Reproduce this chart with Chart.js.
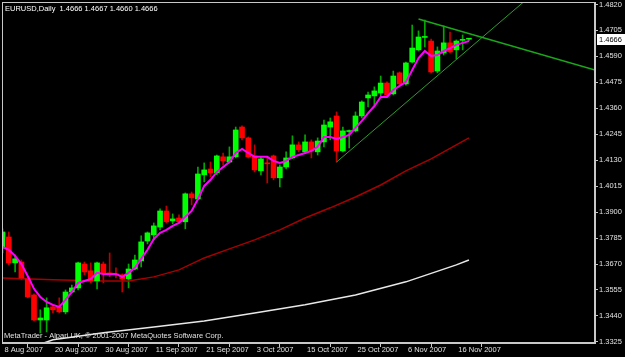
<!DOCTYPE html>
<html>
<head>
<meta charset="utf-8">
<script src="https://cdn.jsdelivr.net/npm/chart.js@4/dist/chart.umd.min.js"></script>
<style>
  html, body { margin: 0; padding: 0; background: #000; }
  canvas { display: block; }
</style>
</head>
<body>
<canvas id="chart" width="625" height="357"></canvas>
<script>
// EURUSD daily bars, 8 Aug 2007 .. 20 Nov 2007 (index 0 .. 74)
const opens = [1.3741,1.3790,1.3675,1.3679,1.3604,1.3533,1.3422,1.3422,1.3480,1.3480,
  1.3458,1.3546,1.3564,1.3670,1.3640,1.3595,1.3670,1.3631,1.3626,1.3622,
  1.3604,1.3648,1.3684,1.3772,1.3799,1.3834,1.3905,1.3861,1.3874,1.3857,
  1.3981,1.3958,1.4065,1.4091,1.4074,1.4145,1.4122,1.4145,1.4277,1.4229,
  1.4149,1.4083,1.4118,1.4149,1.4052,1.4100,1.4140,1.4198,1.4167,1.4211,
  1.4167,1.4211,1.4277,1.4326,1.4171,1.4257,1.4260,1.4326,1.4406,1.4415,
  1.4428,1.4472,1.4424,1.4517,1.4468,1.4565,1.4619,1.4674,1.4658,1.4525,
  1.4605,1.4650,1.4619,1.4661,1.4666]
const highs = [1.3826,1.3812,1.3710,1.3688,1.3613,1.3538,1.3467,1.3520,1.3489,1.3520,
  1.3555,1.3577,1.3679,1.3679,1.3675,1.3679,1.3679,1.3719,1.3653,1.3626,
  1.3670,1.3710,1.3795,1.3812,1.3852,1.3914,1.3927,1.3892,1.3888,1.3985,
  1.3989,1.4100,1.4118,1.4122,1.4153,1.4162,1.4189,1.4277,1.4282,1.4233,
  1.4198,1.4145,1.4145,1.4153,1.4109,1.4167,1.4238,1.4211,1.4242,1.4220,
  1.4229,1.4308,1.4317,1.4344,1.4277,1.4264,1.4344,1.4393,1.4432,1.4455,
  1.4503,1.4477,1.4525,1.4521,1.4565,1.4729,1.4703,1.4751,1.4667,1.4632,
  1.4725,1.4698,1.4663,1.4685,1.4667]
const lows = [1.3719,1.3666,1.3635,1.3600,1.3520,1.3418,1.3365,1.3369,1.3453,1.3453,
  1.3449,1.3542,1.3555,1.3622,1.3586,1.3560,1.3586,1.3613,1.3608,1.3546,
  1.3564,1.3644,1.3657,1.3759,1.3777,1.3821,1.3852,1.3848,1.3852,1.3826,
  1.3932,1.3954,1.4034,1.4056,1.4065,1.4109,1.4118,1.4140,1.4220,1.4140,
  1.4078,1.4065,1.4029,1.4043,1.4012,1.4091,1.4136,1.4167,1.4162,1.4140,
  1.4153,1.4189,1.4220,1.4122,1.4167,1.4184,1.4255,1.4317,1.4366,1.4375,
  1.4410,1.4415,1.4419,1.4463,1.4463,1.4561,1.4614,1.4632,1.4517,1.4517,
  1.4596,1.4605,1.4579,1.4619,1.4660]
const closes = [1.3812,1.3675,1.3693,1.3608,1.3524,1.3422,1.3431,1.3476,1.3467,1.3458,
  1.3546,1.3564,1.3675,1.3635,1.3595,1.3675,1.3631,1.3622,1.3622,1.3604,
  1.3648,1.3688,1.3768,1.3808,1.3839,1.3905,1.3857,1.3870,1.3857,1.3981,
  1.3963,1.4069,1.4087,1.4074,1.4149,1.4127,1.4145,1.4264,1.4229,1.4145,
  1.4087,1.4136,1.4114,1.4052,1.4100,1.4140,1.4198,1.4176,1.4211,1.4171,
  1.4215,1.4286,1.4300,1.4171,1.4260,1.4260,1.4326,1.4388,1.4419,1.4437,
  1.4472,1.4419,1.4503,1.4468,1.4561,1.4627,1.4676,1.4676,1.4521,1.4614,
  1.4650,1.4610,1.4658,1.4663,1.4666]

// fast moving average (magenta), one reading per bar
const fastMA = [1.3746,1.3733,1.3706,1.3670,1.3617,1.3560,1.3524,1.3502,1.3489,1.3480,
  1.3511,1.3546,1.3586,1.3595,1.3604,1.3631,1.3626,1.3626,1.3626,1.3613,
  1.3631,1.3653,1.3693,1.3733,1.3781,1.3808,1.3821,1.3839,1.3852,1.3879,
  1.3905,1.3958,1.4016,1.4043,1.4078,1.4100,1.4122,1.4162,1.4180,1.4162,
  1.4145,1.4145,1.4145,1.4127,1.4118,1.4127,1.4145,1.4153,1.4162,1.4171,
  1.4189,1.4233,1.4233,1.4224,1.4233,1.4242,1.4273,1.4304,1.4339,1.4370,
  1.4410,1.4410,1.4441,1.4459,1.4477,1.4530,1.4583,1.4614,1.4592,1.4596,
  1.4614,1.4627,1.4641,1.4650,1.4658]

// slow averages, read every few bars
const midMAIdx = [0, 8, 16, 20, 24, 28, 32, 36, 40, 44, 48, 52, 56, 60, 64, 68, 72, 74]
const midMA = [1.3608,1.3600,1.3595,1.3595,1.3613,1.3644,1.3697,1.3737,1.3777,1.3821,
  1.3874,1.3919,1.3967,1.4020,1.4083,1.4136,1.4198,1.4229]
const slowMAIdx = [5, 8, 16, 24, 32, 40, 48, 56, 64, 72, 74]
const slowMA = [1.3305,1.3334,1.3365,1.3391,1.3418,1.3453,1.3489,1.3533,1.3591,1.3666,1.3688]

// hand drawn trend lines: [bar index, price] end points
const supportLine = [[53, 1.4122], [84, 1.4863]]
const resistLine = [[66, 1.4756], [94, 1.4530]]

const dateIdx = [0, 8, 16, 24, 32, 40, 48, 56, 64, 72]
const dateLabels = ['8 Aug 2007', '20 Aug 2007', '30 Aug 2007', '11 Sep 2007', '21 Sep 2007',
  '3 Oct 2007', '15 Oct 2007', '25 Oct 2007', '6 Nov 2007', '16 Nov 2007']
const priceTicks = [1.3325, 1.3440, 1.3555, 1.3670, 1.3785, 1.3900, 1.4015, 1.4130,
  1.4245, 1.4360, 1.4475, 1.4590, 1.4705, 1.4820]

const FONT = 'Liberation Sans'
const axisColor = '#c8c8c8'
const last = opens.length - 1

const isUp = i => closes[i] >= opens[i]

const frame = {
  id: 'mtFrame',
  beforeDraw(c) {
    const ctx = c.ctx
    ctx.save()
    ctx.fillStyle = '#000'
    ctx.fillRect(0, 0, c.width, c.height)
    ctx.restore()
  },
  afterDraw(c) {
    const ctx = c.ctx
    const a = c.chartArea
    ctx.save()
    ctx.strokeStyle = axisColor
    ctx.lineWidth = 1
    ctx.strokeRect(Math.round(a.left) + 0.5, Math.round(a.top) + 0.5,
      Math.round(a.right - a.left) - 1, Math.round(a.bottom - a.top) - 1)

    ctx.font = `7.5px "${FONT}"`
    ctx.textBaseline = 'middle'
    ctx.fillStyle = '#ffffff'
    const fmt = v => v.toFixed(4)
    ctx.fillText(`EURUSD,Daily  ${fmt(opens[last])} ${fmt(highs[last])} ${fmt(lows[last])} ${fmt(closes[last])}`, 5, 9)
    ctx.fillStyle = '#e0e0e0'
    ctx.fillText('MetaTrader - Alpari UK, \u00a9 2001-2007 MetaQuotes Software Corp.', 4, 336)

    // current price box on the price axis
    const y = Math.round(c.scales.y.getPixelForValue(closes[last]))
    ctx.fillStyle = '#ffffff'
    ctx.fillRect(a.right + 2, y - 5, 28, 11)
    ctx.fillStyle = '#000000'
    ctx.fillText(fmt(closes[last]), a.right + 4, y + 0.5)
    ctx.restore()
  }
}

const chartConfig = {
  type: 'bar',
  data: {
    datasets: [
      {
        type: 'line',
        data: supportLine.map(p => ({ x: p[0], y: p[1] })),
        borderColor: '#2f9a2f',
        borderWidth: 1,
        pointRadius: 0,
        order: 0
      },
      {
        type: 'line',
        data: resistLine.map(p => ({ x: p[0], y: p[1] })),
        borderColor: '#1aa81a',
        borderWidth: 1.5,
        pointRadius: 0,
        order: 0
      },
      {
        type: 'line',
        data: fastMA.map((v, i) => ({ x: i, y: v })),
        borderColor: '#ff00ff',
        borderWidth: 2,
        pointRadius: 0,
        order: 1
      },
      {
        type: 'line',
        data: midMA.map((v, i) => ({ x: midMAIdx[i], y: v })),
        borderColor: '#a80000',
        borderWidth: 1.5,
        pointRadius: 0,
        order: 3
      },
      {
        type: 'line',
        data: slowMA.map((v, i) => ({ x: slowMAIdx[i], y: v })),
        borderColor: '#e8e8e8',
        borderWidth: 1.5,
        pointRadius: 0,
        order: 3
      },
      {
        // candle bodies
        data: opens.map((o, i) => ({ x: i, y: [o, closes[i]] })),
        backgroundColor: opens.map((o, i) => isUp(i) ? '#00ff00' : '#ff0000'),
        barThickness: 5,
        minBarLength: 1,
        grouped: false,
        order: 2
      },
      {
        // wicks
        data: lows.map((l, i) => ({ x: i, y: [l, highs[i]] })),
        backgroundColor: opens.map((o, i) => isUp(i) ? '#00a800' : '#c00000'),
        barThickness: 1,
        grouped: false,
        order: 4
      }
    ]
  },
  options: {
    responsive: false,
    animation: false,
    events: [],
    layout: { padding: { left: 2, top: 2, right: 0, bottom: 0 } },
    plugins: { legend: { display: false }, tooltip: { enabled: false } },
    scales: {
      x: {
        type: 'linear',
        min: -0.08,
        max: 94,
        offset: false,
        grid: { display: true, drawOnChartArea: false, drawTicks: true, tickLength: 4, color: axisColor },
        border: { display: true, color: axisColor },
        afterBuildTicks: axis => { axis.ticks = dateIdx.map(v => ({ value: v })) },
        afterFit: s => { s.height = 14; s.paddingLeft = 0; s.paddingRight = 0 },
        ticks: {
          autoSkip: false,
          maxRotation: 0,
          align: 'start',
          labelOffset: 2,
          padding: -2,
          color: '#e0e0e0',
          font: { family: FONT, size: 7.5 },
          callback: (v, i) => dateLabels[i]
        }
      },
      y: {
        type: 'linear',
        position: 'right',
        min: 1.3320,
        max: 1.4831,
        grid: { display: true, drawOnChartArea: false, drawTicks: true, tickLength: 3, color: axisColor },
        border: { display: true, color: axisColor },
        afterBuildTicks: axis => { axis.ticks = priceTicks.map(v => ({ value: v })) },
        afterFit: s => { s.width = 30; s.paddingTop = 0; s.paddingBottom = 0 },
        ticks: {
          padding: 1,
          color: '#e0e0e0',
          font: { family: FONT, size: 7.5 },
          callback: v => v.toFixed(4)
        }
      }
    }
  },
  plugins: [frame]
}

new Chart(document.getElementById('chart'), chartConfig)
</script>
</body>
</html>
